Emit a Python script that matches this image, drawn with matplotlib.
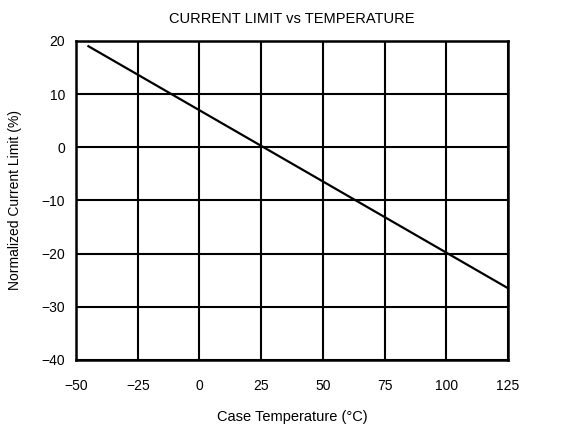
import matplotlib.pyplot as plt

temp = [-45, 125]
limit = [19, -26.5]
xticks = [-50, -25, 0, 25, 50, 75, 100, 125]
yticks = [-40, -30, -20, -10, 0, 10, 20]

plt.rcParams['font.family'] = 'Liberation Sans'

fig = plt.figure(figsize=(5.72, 4.26), dpi=100)
ax = fig.add_axes([0.133, 0.155, 0.755, 0.749])
ax.plot(temp, limit, color='black', linewidth=1.6)
ax.set_xlim(-50, 125)
ax.set_ylim(-40, 20)
ax.set_xticks(xticks)
ax.set_yticks(yticks)
ax.grid(True, color='black', linewidth=1.5)
for s in ax.spines.values():
    s.set_linewidth(1.8)
ax.tick_params(axis='x', length=0, labelsize=10, pad=14)
ax.tick_params(axis='y', length=0, labelsize=10, pad=8)
ax.set_xlabel('Case Temperature (°C)', fontsize=10.5, labelpad=12)
ax.set_ylabel('Normalized Current Limit (%)', fontsize=10, labelpad=14)
ax.set_title('CURRENT LIMIT vs TEMPERATURE', fontsize=10.5, pad=13)

fig.savefig('out.png', dpi=100)
